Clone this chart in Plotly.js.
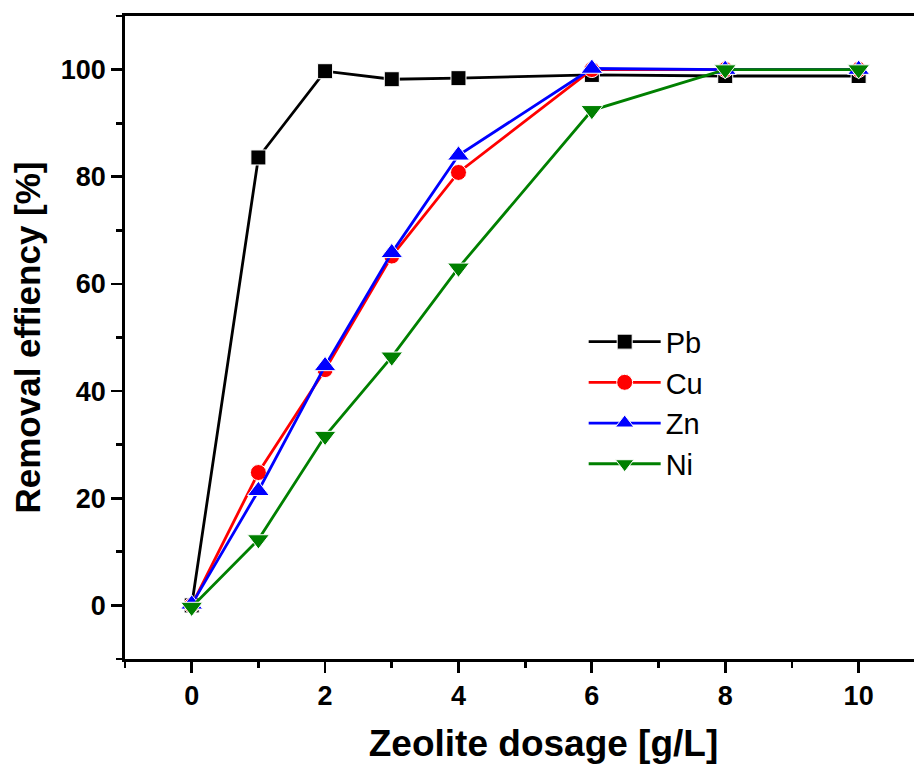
<!DOCTYPE html>
<html>
<head>
<meta charset="utf-8">
<script src="https://cdn.plot.ly/plotly-3.0.1.min.js"></script>
<style>
html, body { margin: 0; padding: 0; overflow: hidden; background: #fff; }
#chart { width: 1000px; height: 764px; }
</style>
</head>
<body>
<div id="chart"></div>
<script>
const dosage = [0, 1, 2, 3, 4, 6, 8, 10];
const pb = [0, 83.6, 99.7, 98.2, 98.4, 99.0, 98.8, 98.8];
const cu = [0, 24.8, 44.0, 65.2, 80.8, 100, 100, 100];
const zn = [0.2, 21.4, 44.7, 65.8, 84.0, 100.2, 100, 100];
const ni = [-0.3, 12.3, 31.6, 46.4, 63.0, 92.4, 100, 100];

const names = ['Pb', 'Cu', 'Zn', 'Ni'];
const series = [pb, cu, zn, ni];
const colors = ['#000000', '#ff0000', '#0000ff', '#008000'];
const symbols = ['square', 'circle', 'triangle-up', 'triangle-down'];
const sizes = [15, 16, 19, 19];

const font = 'Arial, "Liberation Sans", sans-serif';

const traces = series.map((ys, i) => ({
  x: dosage,
  y: ys,
  name: names[i],
  type: 'scatter',
  mode: 'lines+markers',
  line: { color: colors[i], width: 2.8 },
  marker: { symbol: symbols[i], size: sizes[i], color: colors[i], line: { color: '#ffffff', width: 1 } }
}));

const layout = {
  width: 1000,
  height: 764,
  margin: { l: 125, r: 38, t: 16, b: 105 },
  paper_bgcolor: '#ffffff',
  plot_bgcolor: '#ffffff',
  showlegend: true,
  legend: {
    x: 0.548, y: 0.533, xanchor: 'left', yanchor: 'top',
    itemwidth: 72,
    font: { family: font, size: 29, color: '#000' },
    bgcolor: 'rgba(0,0,0,0)',
    tracegroupgap: 0
  },
  xaxis: {
    range: [-1, 11.55],
    dtick: 2, tick0: 0,
    ticks: 'outside', ticklen: 11, tickwidth: 2.8, tickcolor: '#000',
    minor: { dtick: 1, ticks: 'outside', ticklen: 6, tickwidth: 2.8, tickcolor: '#000' },
    showline: true, linewidth: 2.8, linecolor: '#000', mirror: true,
    showgrid: false, zeroline: false,
    tickfont: { family: font, size: 27, color: '#000', weight: 'bold' },
    title: { text: '<b>Zeolite dosage [g/L]</b>', font: { family: font, size: 37, color: '#000' }, standoff: 20 }
  },
  yaxis: {
    range: [-10, 110],
    dtick: 20, tick0: 0,
    ticks: 'outside', ticklen: 11, tickwidth: 2.8, tickcolor: '#000',
    minor: { dtick: 10, ticks: 'outside', ticklen: 6, tickwidth: 2.8, tickcolor: '#000' },
    showline: true, linewidth: 2.8, linecolor: '#000', mirror: true,
    showgrid: false, zeroline: false,
    tickfont: { family: font, size: 27, color: '#000', weight: 'bold' },
    title: { text: '<b>Removal effiency [%]</b>', font: { family: font, size: 35, color: '#000' }, standoff: 10 }
  }
};

Plotly.newPlot('chart', traces, layout, { displayModeBar: false, staticPlot: true });
</script>
</body>
</html>
